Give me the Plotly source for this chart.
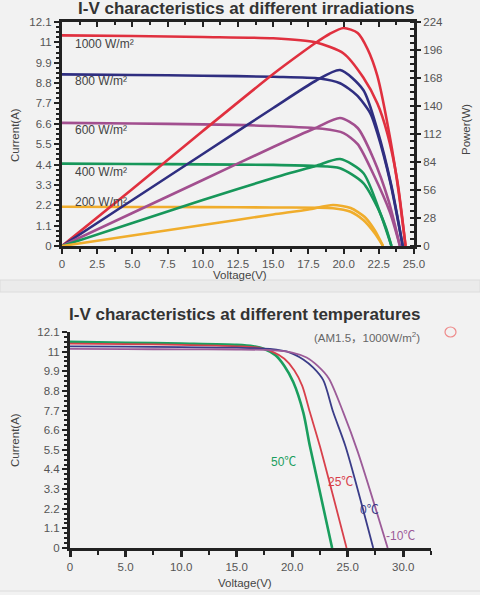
import plotly.graph_objects as go

# ---------------- data: top chart (irradiation) ----------------
irr_labels = ["1000 W/m²", "800 W/m²", "600 W/m²", "400 W/m²", "200 W/m²"]

iv_v_1000 = [0, 5, 10, 15, 18, 20, 21.4, 22.4, 23.1, 23.8, 24.4]
iv_i_1000 = [11.38, 11.34, 11.29, 11.22, 11.0, 10.4, 9.1, 7.7, 6.1, 3.6, 0]
pv_v_1000 = [0, 5, 10, 15, 17, 18, 19, 20, 21, 21.7, 22.4, 23.3, 23.9, 24.4]
pv_p_1000 = [0, 57, 115, 172, 193, 203, 212, 218, 213, 197, 170, 108, 55, 0]

iv_v_800 = [0, 5, 10, 15, 18.3, 19.75, 20.95, 21.9, 22.4, 23.3, 24.2]
iv_i_800 = [9.27, 9.24, 9.2, 9.14, 9.05, 8.79, 8.14, 7.17, 6.1, 3.5, 0]
pv_v_800 = [0, 5, 10, 15, 18, 19.75, 21.4, 22.4, 23.4, 24.2]
pv_p_800 = [0, 46, 92, 138, 165, 176, 156, 116, 60, 0]

iv_v_600 = [0, 5, 10, 15, 18.5, 20, 21, 22.1, 23.3, 24.0]
iv_i_600 = [6.65, 6.62, 6.57, 6.48, 6.33, 6.1, 5.5, 3.9, 1.8, 0]
pv_v_600 = [0, 5, 10, 15, 18, 19.75, 21, 22.1, 23.2, 24.0]
pv_p_600 = [0, 33, 66, 99, 118, 128, 118, 88, 45, 0]

iv_v_400 = [0, 5, 10, 15, 18, 19.75, 21.4, 22.4, 23.0, 23.4]
iv_i_400 = [4.45, 4.43, 4.41, 4.38, 4.32, 4.2, 3.4, 2.1, 1.0, 0]
pv_v_400 = [0, 5, 10, 15, 18, 19.75, 21.4, 22.6, 23.4]
pv_p_400 = [0, 23, 46, 68, 80, 87, 73, 33, 0]

iv_v_200 = [0, 5, 10, 15, 19.25, 20.5, 21.4, 22.2, 22.8]
iv_i_200 = [2.12, 2.11, 2.1, 2.08, 2.04, 1.85, 1.4, 0.7, 0]
pv_v_200 = [0, 5, 10, 15, 17.5, 19.25, 20.5, 21.5, 22.2, 22.8]
pv_p_200 = [0, 10.5, 21, 31.5, 36.5, 41, 38, 29, 16, 0]

top_x_ticks = [0, 2.5, 5, 7.5, 10, 12.5, 15, 17.5, 20, 22.5, 25]
top_x_text = ["0", "2.5", "5.0", "7.5", "10.0", "12.5", "15.0", "17.5", "20.0", "22.5", "25.0"]
cur_ticks = [0, 1.1, 2.2, 3.3, 4.4, 5.5, 6.6, 7.7, 8.8, 9.9, 11, 12.1]
cur_text = ["0", "1.1", "2.2", "3.3", "4.4", "5.5", "6.6", "7.7", "8.8", "9.9", "11", "12.1"]
pow_ticks = [0, 28, 56, 84, 112, 140, 168, 196, 224]

# ---------------- data: bottom chart (temperature) ----------------
temp_labels = ["50℃", "25℃", "0℃", "-10℃"]

t_v_50 = [0, 5, 10, 15, 16.5, 17.5, 18.5, 19.3, 20.1, 21.0, 21.6, 23.6]
t_i_50 = [11.55, 11.5, 11.45, 11.38, 11.3, 11.15, 10.8, 10.2, 9.3, 7.6, 5.7, 0]
t_v_25 = [0, 5, 10, 15, 17, 18.2, 19.3, 20.2, 20.9, 21.6, 22.5, 24.9]
t_i_25 = [11.45, 11.42, 11.38, 11.3, 11.22, 11.0, 10.6, 9.95, 9.1, 7.6, 5.7, 0]
t_v_0 = [0, 5, 10, 15, 18, 19.8, 21, 21.9, 22.8, 23.7, 24.8, 27.3]
t_i_0 = [11.3, 11.28, 11.25, 11.22, 11.15, 10.95, 10.56, 10.1, 9.4, 7.6, 5.7, 0]
t_v_m10 = [0, 5, 10, 15, 18, 20, 21.3, 22.3, 23.3, 24.6, 25.9, 28.6]
t_i_m10 = [11.15, 11.14, 11.13, 11.12, 11.08, 10.95, 10.67, 10.2, 9.5, 7.6, 5.4, 0]

bot_x_ticks = [0, 5, 10, 15, 20, 25, 30]
bot_x_text = ["0", "5.0", "10.0", "15.0", "20.0", "25.0", "30.0"]

# ---------------- styling ----------------
W, H = 480, 595
def px(x):
    return x / W
def py(y):
    return 1 - y / H

FONT = "Liberation Sans, Arial, Noto Sans CJK SC, sans-serif"
AX = "#222222"
TICKF = dict(family=FONT, size=11.5, color="#555555")

irr_colors = ["#e0303f", "#2f2e80", "#a24f8f", "#17975a", "#f0ad2c"]
temp_colors = ["#1a9e5e", "#d8404b", "#3a3c88", "#9c5b98"]

fig = go.Figure()

iv_sets = [(iv_v_1000, iv_i_1000), (iv_v_800, iv_i_800), (iv_v_600, iv_i_600),
           (iv_v_400, iv_i_400), (iv_v_200, iv_i_200)]
pv_sets = [(pv_v_1000, pv_p_1000), (pv_v_800, pv_p_800), (pv_v_600, pv_p_600),
           (pv_v_400, pv_p_400), (pv_v_200, pv_p_200)]

for (v, i), (pvv, pp), c, name in zip(iv_sets, pv_sets, irr_colors, irr_labels):
    fig.add_trace(go.Scatter(x=v, y=i, mode="lines", name=name,
                             line=dict(color=c, width=2.6, shape="spline", smoothing=0.7),
                             xaxis="x", yaxis="y", showlegend=False))
    fig.add_trace(go.Scatter(x=pvv, y=pp, mode="lines", name=name + " P",
                             line=dict(color=c, width=2.6, shape="spline", smoothing=0.7),
                             xaxis="x", yaxis="y2", showlegend=False))

# placeholder trace so the mirrored top axis is drawn
fig.add_trace(go.Scatter(x=[None], y=[None], xaxis="x2", yaxis="y", showlegend=False))

t_sets = [(t_v_50, t_i_50), (t_v_25, t_i_25), (t_v_0, t_i_0), (t_v_m10, t_i_m10)]
t_widths = [2.6, 1.8, 1.8, 1.8]
for (v, i), c, wdt, name in zip(t_sets, temp_colors, t_widths, temp_labels):
    fig.add_trace(go.Scatter(x=v, y=i, mode="lines", name=name,
                             line=dict(color=c, width=wdt, shape="spline", smoothing=0.8),
                             xaxis="x3", yaxis="y3", showlegend=False))

common = dict(showgrid=False, zeroline=False, showline=True, linecolor=AX,
              tickcolor=AX, tickfont=TICKF, automargin=False)

fig.update_layout(
    width=W, height=H,
    margin=dict(l=0, r=0, t=0, b=0, pad=0),
    paper_bgcolor="#f2f2f2", plot_bgcolor="#f2f2f2",
    xaxis=dict(domain=[px(62), px(414)], range=[0, 25], anchor="y",
               tickmode="array", tickvals=top_x_ticks, ticktext=top_x_text,
               ticks="outside", ticklen=5, tickwidth=2, linewidth=3,
               minor=dict(tick0=0, dtick=1.25, ticks="outside", ticklen=3, tickwidth=2, tickcolor=AX),
               **common),
    xaxis2=dict(domain=[px(62), px(414)], range=[0, 25], anchor="y", overlaying="x", side="top",
                tickmode="array", tickvals=top_x_ticks, showticklabels=False,
                ticks="inside", ticklen=5, tickwidth=2, linewidth=3,
                minor=dict(tick0=0, dtick=1.25, ticks="inside", ticklen=3, tickwidth=2, tickcolor=AX),
                **common),
    yaxis=dict(domain=[py(246), py(22)], range=[0, 12.1], anchor="x",
               tickmode="array", tickvals=cur_ticks, ticktext=cur_text,
               ticks="outside", ticklen=5, tickwidth=2, linewidth=3,
               minor=dict(tick0=0, dtick=0.275, ticks="outside", ticklen=3, tickwidth=1.5, tickcolor=AX),
               **common),
    yaxis2=dict(range=[0, 224], anchor="x", overlaying="y", side="right",
                tickmode="array", tickvals=pow_ticks,
                ticks="outside", ticklen=4, tickwidth=2, linewidth=3,
                minor=dict(tick0=0, dtick=7, ticks="inside", ticklen=4, tickwidth=2, tickcolor=AX),
                **common),
    xaxis3=dict(domain=[px(70), px(431)], range=[0, 32.5], anchor="y3",
                tickmode="array", tickvals=bot_x_ticks, ticktext=bot_x_text,
                ticks="outside", ticklen=6, tickwidth=2.5, linewidth=3,
                minor=dict(tick0=0, dtick=2.5, ticks="outside", ticklen=4, tickwidth=2, tickcolor=AX),
                **common),
    yaxis3=dict(domain=[py(548), py(332)], range=[0, 12.1], anchor="x3",
                tickmode="array", tickvals=cur_ticks, ticktext=cur_text,
                ticks="outside", ticklen=5, tickwidth=2, linewidth=3,
                minor=dict(tick0=0, dtick=0.275, ticks="outside", ticklen=3, tickwidth=1.5, tickcolor=AX),
                **common),
)

ann = []
def A(text, x, y, size=11, color="#444444", bold=False, angle=0, xanchor="center"):
    t = "<b>" + text + "</b>" if bold else text
    ann.append(dict(text=t, x=px(x), y=py(y), xref="paper", yref="paper",
                    showarrow=False, textangle=angle, xanchor=xanchor, yanchor="middle",
                    font=dict(family=FONT, size=size, color=color)))

A("I-V characteristics at different irradiations", 246, 9, size=17, color="#333333", bold=True)
A("Current(A)", 15, 135, size=11.5, angle=-90)
A("Power(W)", 466, 130, size=11.5, angle=-90)
A("Voltage(V)", 240, 275, size=11.5)
for lab, yy in zip(irr_labels, [44, 81, 130, 172, 202]):
    A(lab, 73, yy, size=12, color="#444444", xanchor="left")

A("I-V characteristics at different temperatures", 245, 314, size=17, color="#333333", bold=True)
A("(AM1.5，1000W/m<sup>2</sup>)", 422, 337, size=11.5, color="#666666", xanchor="right")
A("Current(A)", 15, 440, size=11.5, angle=-90)
A("Voltage(V)", 245, 583, size=11.5)
for lab, c, (xx, yy) in zip(temp_labels, temp_colors,
                             [(283, 462), (340, 482), (369, 510), (384, 536)]):
    A(lab, xx, yy, size=12, color=c, xanchor="center" if lab != "-10℃" else "left")

fig.update_layout(annotations=ann)

fig.update_layout(shapes=[
    dict(type="rect", xref="paper", yref="paper", x0=0, x1=1, y0=py(292), y1=py(280),
         fillcolor="#ebebeb", line=dict(color="#dcdcdc", width=1), layer="below"),
    dict(type="line", xref="paper", yref="paper", x0=0, x1=1, y0=py(591), y1=py(591),
         line=dict(color="#dcdcdc", width=1)),
    dict(type="circle", xref="paper", yref="paper", x0=px(445), x1=px(456), y0=py(337), y1=py(327),
         line=dict(color="#ee8a8a", width=1.2)),
])

fig.write_html("out.html", config={"displayModeBar": False},
               post_script="document.body.style.margin='0';document.body.style.overflow='hidden';")
